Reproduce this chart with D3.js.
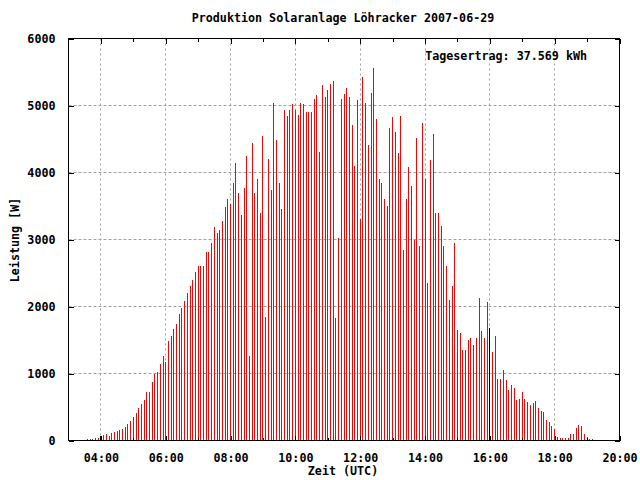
<!DOCTYPE html>
<html>
<head>
<meta charset="utf-8">
<script src="https://cdn.jsdelivr.net/npm/d3@7"></script>
<style>
  html, body { margin: 0; padding: 0; background: #fff; }
  svg text { font-family: "DejaVu Sans Mono", "Liberation Mono", monospace; font-weight: bold; font-size: 11.7px; fill: #000; }
</style>
</head>
<body>
<svg id="chart" width="640" height="480"></svg>
<script>
const title = "Produktion Solaranlage Löhracker 2007-06-29";
const xTitle = "Zeit (UTC)";
const yTitle = "Leistung [W]";
const note = "Tagesertrag: 37.569 kWh";

const times = [
  "03:35","03:40","03:45","03:50","03:55",
  "04:00","04:05","04:10","04:15","04:20","04:25","04:30","04:35","04:40","04:45","04:50","04:55",
  "05:00","05:05","05:10","05:15","05:20","05:25","05:30","05:35","05:40","05:45","05:50","05:55",
  "06:00","06:05","06:10","06:15","06:20","06:25","06:30","06:35","06:40","06:45","06:50","06:55",
  "07:00","07:05","07:10","07:15","07:20","07:25","07:30","07:35","07:40","07:45","07:50","07:55",
  "08:00","08:05","08:10","08:15","08:20","08:25","08:30","08:35","08:40","08:45","08:50","08:55",
  "09:00","09:05","09:10","09:15","09:20","09:25","09:30","09:35","09:40","09:45","09:50","09:55",
  "10:00","10:05","10:10","10:15","10:20","10:25","10:30","10:35","10:40","10:45","10:50","10:55",
  "11:00","11:05","11:10","11:15","11:20","11:25","11:30","11:35","11:40","11:45","11:50","11:55",
  "12:00","12:05","12:10","12:15","12:20","12:25","12:30","12:35","12:40","12:45","12:50","12:55",
  "13:00","13:05","13:10","13:15","13:20","13:25","13:30","13:35","13:40","13:45","13:50","13:55",
  "14:00","14:05","14:10","14:15","14:20","14:25","14:30","14:35","14:40","14:45","14:50","14:55",
  "15:00","15:05","15:10","15:15","15:20","15:25","15:30","15:35","15:40","15:45","15:50","15:55",
  "16:00","16:05","16:10","16:15","16:20","16:25","16:30","16:35","16:40","16:45","16:50","16:55",
  "17:00","17:05","17:10","17:15","17:20","17:25","17:30","17:35","17:40","17:45","17:50","17:55",
  "18:00","18:05","18:10","18:15","18:20","18:25","18:30","18:35","18:40","18:45","18:50","18:55",
  "19:00","19:05","19:10"
];

const power = [
  15,15,20,35,35,
  60,75,90,70,105,120,135,150,165,195,240,285,
  345,405,480,550,610,720,730,880,1000,1015,1135,1255,
  1165,1490,1565,1670,1745,1895,1985,2075,2195,2300,2390,2510,
  2600,2600,2610,2820,2820,2955,3180,3090,3135,3270,3490,3610,
  3535,3850,4135,3700,3360,3775,4240,1255,4435,3700,3910,3390,
  4550,1850,4195,3745,5030,4490,3850,3450,4940,4850,4940,5015,
  4940,4865,5030,5015,4910,4910,4910,5090,5150,4300,5300,5120,
  5225,5315,5360,1835,3015,5090,5165,5258,5124,4706,4100,5079,
  3300,5422,5034,4407,5183,5557,4795,3900,3850,3600,3500,4661,
  4825,4601,4288,4840,2850,3600,4079,3800,3000,4512,2900,4736,
  3900,2350,4183,4572,3400,3400,3200,2900,2600,2100,2300,2950,
  1650,1600,1350,1350,1500,1529,1424,1529,2125,1632,1527,2064,
  1676,1318,1557,915,915,1049,900,751,825,781,601,616,
  721,616,572,527,557,587,482,437,422,303,273,213,
  173,49,34,34,34,34,94,94,184,228,213,94,
  49,19,19
];

const darkBars = ["04:00", "16:00"];

const xTickLabels = ["04:00","06:00","08:00","10:00","12:00","14:00","16:00","18:00","20:00"];
const xMinorTicks = ["04:00","05:00","06:00","07:00","08:00","09:00","10:00","11:00","12:00","13:00","14:00","15:00","16:00","17:00","18:00","19:00"];
const yTicks = [0,1000,2000,3000,4000,5000,6000];
const xDomain = ["03:00", "20:00"];

const parse = s => d3.utcParse("%Y-%m-%d %H:%M")("2007-06-29 " + s);

const L = 68.5, R = 619.5, T = 38.5, B = 440.5;
const svg = d3.select("#chart");

const x = d3.scaleUtc().domain(xDomain.map(parse)).range([L, R]);
const y = d3.scaleLinear().domain([0, 6000]).range([B, T]);

// grid
const grid = svg.append("g").attr("class", "grid");
grid.selectAll("line.gx")
  .data(xTickLabels.slice(0, -1))
  .join("line")
  .attr("x1", d => Math.floor(x(parse(d))) + 0.5)
  .attr("x2", d => Math.floor(x(parse(d))) + 0.5)
  .attr("y1", T).attr("y2", B)
  .attr("stroke", "#a0a0a0").attr("stroke-dasharray", "2,3");
grid.selectAll("line.gy")
  .data(yTicks.slice(1, -1))
  .join("line")
  .attr("x1", L).attr("x2", R)
  .attr("y1", d => Math.round(y(d) - 0.5) + 0.5)
  .attr("y2", d => Math.round(y(d) - 0.5) + 0.5)
  .attr("stroke", "#a0a0a0").attr("stroke-dasharray", "3,2");

// bars
const data = times.map((t, i) => ({ t, v: power[i] }));
svg.append("g").selectAll("rect")
  .data(data)
  .join("rect")
  .attr("shape-rendering", "crispEdges")
  .attr("x", d => Math.floor(x(parse(d.t))))
  .attr("width", 1)
  .attr("y", d => Math.round(y(d.v)))
  .attr("height", d => Math.max(0, 440 - Math.round(y(d.v))))
  .attr("fill", d => darkBars.includes(d.t) ? "#000" : "#ff0000");

// axes ticks via d3 axes
const tickFmt = d3.utcFormat("%H:%M");
const xMajor = xTickLabels.map(parse);
const xMinor = xMinorTicks.map(parse);

function styleAxis(g) {
  g.select(".domain").remove();
  g.selectAll("line").attr("stroke", "#000").attr("shape-rendering", "crispEdges");
  g.selectAll("text").attr("font-family", null).attr("font-size", null).attr("fill", "#000");
}

svg.append("g").attr("transform", `translate(0,${B})`)
  .call(d3.axisBottom(x).tickValues(xMinor).tickSize(-3).tickFormat(""))
  .call(styleAxis);
svg.append("g").attr("transform", `translate(0,${T})`)
  .call(d3.axisTop(x).tickValues(xMinor).tickSize(-3).tickFormat(""))
  .call(styleAxis);
svg.append("g").attr("transform", `translate(0,${B})`)
  .call(d3.axisBottom(x).tickValues(xMajor).tickSizeInner(-5).tickPadding(13).tickFormat(tickFmt))
  .call(styleAxis);
svg.append("g").attr("transform", `translate(0,${T})`)
  .call(d3.axisTop(x).tickValues(xMajor).tickSizeInner(-5).tickFormat(""))
  .call(styleAxis);
svg.append("g").attr("transform", `translate(${L},0)`)
  .call(d3.axisLeft(y).tickValues(yTicks).tickSizeInner(-5).tickPadding(13).tickFormat(d3.format("d")))
  .call(styleAxis);
svg.append("g").attr("transform", `translate(${R},0)`)
  .call(d3.axisRight(y).tickValues(yTicks).tickSizeInner(-5).tickFormat(""))
  .call(styleAxis);

// frame
svg.append("rect")
  .attr("x", L).attr("y", T).attr("width", R - L).attr("height", B - T)
  .attr("fill", "none").attr("stroke", "#000").attr("shape-rendering", "crispEdges");

// texts
svg.append("text").attr("x", 343).attr("y", 22).attr("text-anchor", "middle").text(title);
svg.append("text").attr("x", 343).attr("y", 475).attr("text-anchor", "middle").text(xTitle);
svg.append("text").attr("transform", "translate(19,240) rotate(-90)").attr("text-anchor", "middle").text(yTitle);
svg.append("text").attr("x", 587).attr("y", 60).attr("text-anchor", "end").text(note);
</script>
</body>
</html>
